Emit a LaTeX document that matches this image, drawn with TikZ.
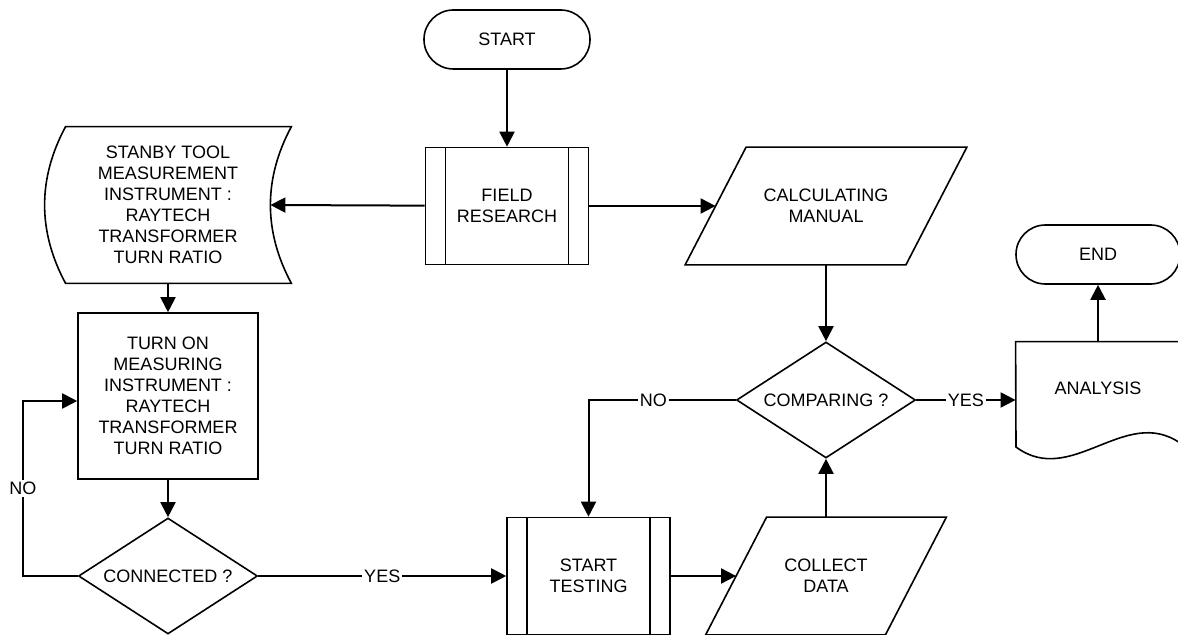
\documentclass[tikz,border=0pt]{standalone}
\usepackage{fontspec}
\setmainfont{Liberation Sans}
\usepackage{tikz}
\usetikzlibrary{arrows.meta}
\usetikzlibrary{shapes.geometric}

\begin{document}
\begin{tikzpicture}[x=0.5pt,y=-0.5pt,
	font=\fontsize{9}{10.5}\selectfont,
	shp/.style={draw,line width=0.8pt,align=center,inner sep=0pt},
	outline/.style={line width=0.8pt,line join=miter},
	terminal/.style={shp,rounded corners=14.7pt,minimum width=83pt,minimum height=29.5pt},
	subproc/.style={shp,minimum width=81.5pt,minimum height=58.5pt,
		path picture={
			\draw[line width=0.8pt] ([xshift=10pt]path picture bounding box.north west) to ([xshift=10pt]path picture bounding box.south west);
			\draw[line width=0.8pt] ([xshift=-10pt]path picture bounding box.north east) to ([xshift=-10pt]path picture bounding box.south east);}},
	io/.style={align=center,inner sep=0pt,minimum height=58.5pt},
	decision/.style={shp,diamond,aspect=1.55,minimum width=89.5pt,minimum height=58pt},
	arr/.style={line width=1pt,-{Triangle[length=7.5pt,width=7.5pt]}},
	lbl/.style={fill=white,inner sep=1pt}
	]

\useasboundingbox (0,0) rectangle (1178,635);

\node[terminal] (start) at (507,39.5) {START};

\node[subproc] (field) at (507,206) {FIELD\\RESEARCH};

% stored data
\node[align=center,inner sep=0pt,minimum width=123pt,minimum height=78pt] (sto) at (168,205) {STANBY TOOL\\MEASUREMENT\\INSTRUMENT :\\RAYTECH\\TRANSFORMER\\TURN RATIO};
\draw[outline] ([xshift=10.5pt]sto.north west) to (sto.north east)
	.. controls +(-14pt,-26pt) and +(-14pt,26pt) .. (sto.south east)
	to ([xshift=10.5pt]sto.south west)
	.. controls +(-14pt,26pt) and +(-14pt,-26pt) .. ([xshift=10.5pt]sto.north west) -- cycle;
\coordinate (stoin) at ([xshift=-10.5pt]sto.east);

\node[shp,minimum width=90pt,minimum height=83pt] (turnon) at (168,396) {TURN ON\\MEASURING\\INSTRUMENT :\\RAYTECH\\TRANSFORMER\\TURN RATIO};

\node[decision] (conn) at (168,576) {CONNECTED ?};

\node[subproc] (test) at (588.5,576) {START\\TESTING};

% data (parallelograms)
\node[io,minimum width=89.5pt] (collect) at (826,576) {COLLECT\\DATA};
\draw[outline] ([xshift=15.25pt]collect.north west) -- ([xshift=15.25pt]collect.north east)
	-- ([xshift=-15.25pt]collect.south east) -- ([xshift=-15.25pt]collect.south west) -- cycle;

\node[io,minimum width=110pt] (calc) at (826,206) {CALCULATING\\MANUAL};
\draw[outline] ([xshift=15.25pt]calc.north west) -- ([xshift=15.25pt]calc.north east)
	-- ([xshift=-15.25pt]calc.south east) -- ([xshift=-15.25pt]calc.south west) -- cycle;

\node[decision] (comp) at (826,400) {COMPARING ?};

% document
\node[align=center,inner sep=0pt,minimum width=82pt,minimum height=46pt] (ana) at (1098,388) {ANALYSIS};
\draw[outline] (ana.north west) to (ana.north east) to (1180,443)
	.. controls (1125,405) and (1071,488) .. (1016,447) -- cycle;

\node[terminal,minimum width=82pt] (end) at (1098,254.5) {END};

\coordinate (noleft) at (23,401);

\draw[arr] (start) to (field);
\draw[arr] (field) to (stoin);
\draw[arr] (field) to (calc);
\draw[arr] (sto) to (turnon);
\draw[arr] (turnon) to (conn);
\draw[arr] (conn.west) -| node[lbl,pos=0.75] {NO} (noleft) -- (noleft -| turnon.west);
\draw[arr] (conn) -- node[lbl] {YES} (test);
\draw[arr] (test) to (collect);
\draw[arr] (collect) to (comp);
\draw[arr] (calc) to (comp);
\draw[arr] (comp.west) -| node[lbl,pos=0.28] {NO} (test.north);
\draw[arr] (comp.east) -- node[lbl] {YES} (comp.east -| ana.west);
\draw[arr] (ana) to (end);

\end{tikzpicture}
\end{document}
